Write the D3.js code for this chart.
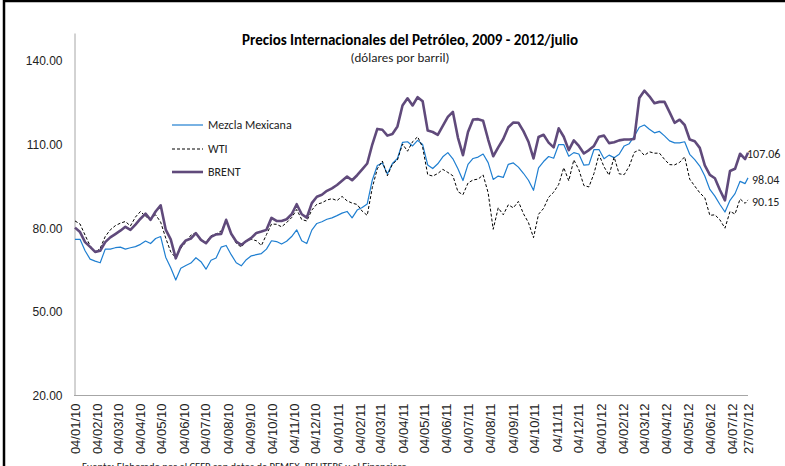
<!DOCTYPE html>
<html>
<head>
<meta charset="utf-8">
<script src="https://cdn.jsdelivr.net/npm/d3@7"></script>
<style>
body { margin: 0; background: #fff; }
svg { display: block; font-family: Carlito, Lato, "Liberation Sans", sans-serif; }
</style>
</head>
<body>
<svg width="785" height="466"></svg>
<script>
// fechas semanales (lunes) + ultimo dato
let fechas = [
"04/01/10","11/01/10","18/01/10","25/01/10","01/02/10","08/02/10","15/02/10","22/02/10","01/03/10","08/03/10","15/03/10","22/03/10","29/03/10",
"05/04/10","12/04/10","19/04/10","26/04/10","03/05/10","10/05/10","17/05/10","24/05/10","31/05/10","07/06/10","14/06/10","21/06/10","28/06/10",
"05/07/10","12/07/10","19/07/10","26/07/10","02/08/10","09/08/10","16/08/10","23/08/10","30/08/10","06/09/10","13/09/10","20/09/10","27/09/10",
"04/10/10","11/10/10","18/10/10","25/10/10","01/11/10","08/11/10","15/11/10","22/11/10","29/11/10","06/12/10","13/12/10","20/12/10","27/12/10",
"03/01/11","10/01/11","17/01/11","24/01/11","31/01/11","07/02/11","14/02/11","21/02/11","28/02/11","07/03/11","14/03/11","21/03/11","28/03/11",
"04/04/11","11/04/11","18/04/11","25/04/11","02/05/11","09/05/11","16/05/11","23/05/11","30/05/11","06/06/11","13/06/11","20/06/11","27/06/11",
"04/07/11","11/07/11","18/07/11","25/07/11","01/08/11","08/08/11","15/08/11","22/08/11","29/08/11","05/09/11","12/09/11","19/09/11","26/09/11",
"03/10/11","10/10/11","17/10/11","24/10/11","31/10/11","07/11/11","14/11/11","21/11/11","28/11/11","05/12/11","12/12/11","19/12/11","26/12/11",
"02/01/12","09/01/12","16/01/12","23/01/12","30/01/12","06/02/12","13/02/12","20/02/12","27/02/12","05/03/12","12/03/12","19/03/12","26/03/12",
"02/04/12","09/04/12","16/04/12","23/04/12","30/04/12","07/05/12","14/05/12","21/05/12","28/05/12","04/06/12","11/06/12","18/06/12","25/06/12",
"02/07/12","09/07/12","16/07/12","23/07/12","27/07/12"
]

let mezcla = [
76.0,76.0,71.9,68.9,68.2,67.6,72.5,72.5,73.0,73.2,72.5,73.0,73.4,74.2,75.4,74.5,76.3,77.0,69.6,65.8,61.4,65.6,66.6,67.5,69.4,68.0,65.3,68.5,69.3,73.2,
73.8,70.5,67.6,66.5,68.7,70.1,70.5,70.9,72.5,75.5,75.2,74.3,75.3,77.0,79.4,75.5,74.5,79.3,81.7,82.3,
83.2,83.7,84.5,85.4,86.0,83.7,86.5,87.4,88.7,97.2,102.5,103.4,99.4,103.2,105.0,110.8,111.0,109.5,111.5,110.0,
102.7,101.4,103.1,105.6,107.1,104.9,101.3,97.1,102.9,105.0,105.5,106.6,103.5,97.5,98.7,98.2,102.9,103.4,101.9,99.7,
97.2,93.6,101.6,103.9,105.7,105.1,110.0,110.0,105.8,107.1,106.6,102.6,102.8,108.2,108.2,104.9,106.2,105.3,106.5,109.5,
110.3,113.0,116.2,117.0,115.5,114.2,114.7,113.1,111.3,110.6,110.6,111.0,106.5,104.6,102.3,98.7,93.9,91.5,88.5,85.8,
90.0,92.4,96.8,96.0,98.04
]

let wti = [
82.6,81.5,77.5,73.7,71.3,72.8,77.0,79.4,80.9,81.8,82.4,80.8,84.0,86.0,84.2,83.4,84.8,82.2,76.5,71.5,69.4,72.8,75.0,77.5,78.4,75.6,74.9,77.3,77.9,79.0,
82.5,78.0,74.6,73.2,75.4,76.0,75.5,73.8,77.7,81.5,81.4,80.5,82.0,83.8,86.7,83.1,82.6,86.5,88.6,89.1,
90.1,90.6,89.9,91.4,89.8,89.0,88.5,86.1,84.6,94.5,101.3,104.1,98.8,103.0,104.5,110.2,107.6,111.0,112.8,109.0,
99.2,98.7,99.6,101.1,100.0,98.8,93.1,92.0,96.2,97.3,97.6,99.1,92.7,79.6,87.3,84.8,88.4,87.3,89.6,85.2,
82.0,76.6,85.0,87.1,91.1,92.9,95.7,101.7,97.0,104.5,101.0,95.3,94.8,99.6,106.4,102.0,99.0,105.5,99.5,99.2,
102.2,107.2,108.1,106.1,107.4,106.9,106.9,104.7,102.8,102.7,103.6,105.6,97.6,95.1,92.7,90.9,84.6,84.8,83.0,80.0,
86.0,85.1,90.5,88.9,90.15
]

let brent = [
80.2,78.6,75.0,73.3,71.5,71.9,75.0,76.7,77.9,79.1,80.5,79.4,81.3,83.4,85.2,83.0,86.0,88.2,79.5,76.0,69.2,73.5,75.6,76.3,78.2,75.8,74.6,76.9,77.8,77.9,
83.0,78.0,75.2,74.0,75.4,76.5,78.3,78.8,79.4,83.7,82.6,82.6,83.2,85.0,88.6,85.0,83.8,89.0,91.3,92.0,
93.4,94.3,95.5,97.0,98.5,97.2,99.0,101.1,103.2,110.0,115.6,115.3,113.2,113.8,116.5,124.0,126.6,124.0,127.0,125.5,
115.0,114.5,113.5,116.7,119.9,121.7,112.5,106.2,114.5,119.0,119.1,118.5,111.8,105.8,109.0,112.0,116.2,117.9,117.8,114.8,
111.0,105.0,112.7,113.5,110.7,109.0,115.8,112.8,108.0,111.5,109.5,106.8,108.0,109.5,112.8,113.2,110.5,110.8,111.5,111.8,
111.8,112.0,126.7,129.3,127.3,124.8,125.3,125.3,121.6,117.8,118.9,117.0,111.8,111.2,108.8,102.5,99.1,97.9,93.7,90.0,
100.5,101.3,106.7,104.8,107.06
]

let etiquetas = [
"04/01/10","04/02/10","04/03/10","04/04/10","04/05/10","04/06/10","04/07/10","04/08/10","04/09/10","04/10/10","04/11/10","04/12/10",
"04/01/11","04/02/11","04/03/11","04/04/11","04/05/11","04/06/11","04/07/11","04/08/11","04/09/11","04/10/11","04/11/11","04/12/11",
"04/01/12","04/02/12","04/03/12","04/04/12","04/05/12","04/06/12","04/07/12","27/07/12"
]
let yTicks = [20, 50, 80, 110, 140]

let series = [
    {name: 'Mezcla Mexicana', values: mezcla, color: '#1f7fd1', width: 1.2, dash: null},
    {name: 'WTI', values: wti, color: '#000', width: 1, dash: '3,2'},
    {name: 'BRENT', values: brent, color: '#604a7b', width: 2.6, dash: null},
]

let parse = d3.timeParse('%d/%m/%y')
let fmt = d3.timeFormat('%d/%m/%y')
let dates = fechas.map(parse)

let svg = d3.select('svg')

let x = d3.scaleTime()
    .domain([parse('04/01/10'), parse('27/07/12')])
    .range([75, 748])
let y = d3.scaleLinear()
    .domain([20, 150])
    .range([395.5, 33])

// marco
svg.append('path')
    .attr('d', 'M4,466 V1 H785')
    .attr('fill', 'none')
    .attr('stroke', '#000')
    .attr('stroke-width', 2.5)

// ejes
let gx = svg.append('g')
    .attr('transform', 'translate(0,395.5)')
    .call(d3.axisBottom(x).tickValues(etiquetas.map(parse)).tickSize(0).tickFormat(fmt))
gx.select('.domain').attr('stroke', '#a6a6a6').attr('d', 'M74,0H748')
gx.selectAll('text')
    .attr('transform', 'rotate(-90)')
    .attr('text-anchor', 'end')
    .attr('x', -8)
    .attr('y', 0)
    .attr('dy', '0.35em')
    .attr('fill', '#222')
    .style('font-size', '13px')

let gy = svg.append('g')
    .attr('transform', 'translate(74.5,0)')
    .call(d3.axisLeft(y).tickValues(yTicks).tickSize(0).tickPadding(12).tickFormat(d3.format('.2f')))
gy.select('.domain').attr('stroke', '#a6a6a6')
gy.selectAll('text')
    .attr('fill', '#222')
    .style('font-size', '12px')

// lineas
let line = d3.line()
    .x(function (d, i) {return x(dates[i]);})
    .y(function (d) {return y(d);})

svg.selectAll('path.serie')
    .data(series)
    .join('path')
    .attr('class', 'serie')
    .attr('d', function (d) {return line(d.values);})
    .attr('fill', 'none')
    .attr('stroke', function (d) {return d.color;})
    .attr('stroke-width', function (d) {return d.width;})
    .attr('stroke-dasharray', function (d) {return d.dash;})
    .attr('stroke-linejoin', 'round')

// etiquetas finales
let finales = [
    {txt: '107.06', x: 747, y: 154},
    {txt: '98.04', x: 752, y: 180},
    {txt: '90.15', x: 752, y: 202},
]
svg.selectAll('text.final')
    .data(finales)
    .join('text')
    .attr('class', 'final')
    .attr('x', function (d) {return d.x;})
    .attr('y', function (d) {return d.y;})
    .attr('dy', '0.35em')
    .style('font-size', '12px')
    .attr('fill', '#222')
    .text(function (d) {return d.txt;})

// leyenda
let leg = svg.selectAll('g.leg')
    .data(series)
    .join('g')
    .attr('class', 'leg')
    .attr('transform', function (d, i) {return 'translate(172,' + [125, 149, 172][i] + ')';})
leg.append('line')
    .attr('x1', 0).attr('x2', 31)
    .attr('stroke', function (d) {return d.color;})
    .attr('stroke-width', function (d) {return d.width;})
    .attr('stroke-dasharray', function (d) {return d.dash;})
leg.append('text')
    .attr('x', 36)
    .attr('dy', '0.35em')
    .style('font-size', '12px')
    .attr('fill', '#222')
    .text(function (d) {return d.name;})

// titulos
svg.append('text')
    .attr('x', 410).attr('y', 45)
    .attr('text-anchor', 'middle')
    .style('font-size', '15px')
    .style('font-weight', 'bold')
    .text('Precios Internacionales del Petróleo, 2009 - 2012/julio')
svg.append('text')
    .attr('x', 400).attr('y', 62)
    .attr('text-anchor', 'middle')
    .style('font-size', '13px')
    .attr('fill', '#222')
    .text('(dólares por barril)')
svg.append('text')
    .attr('x', 82).attr('y', 470)
    .style('font-size', '10.5px')
    .attr('fill', '#222')
    .text('Fuente: Elaborado por el CEFP con datos de PEMEX, REUTERS y el Financiero')
</script>
</body>
</html>
